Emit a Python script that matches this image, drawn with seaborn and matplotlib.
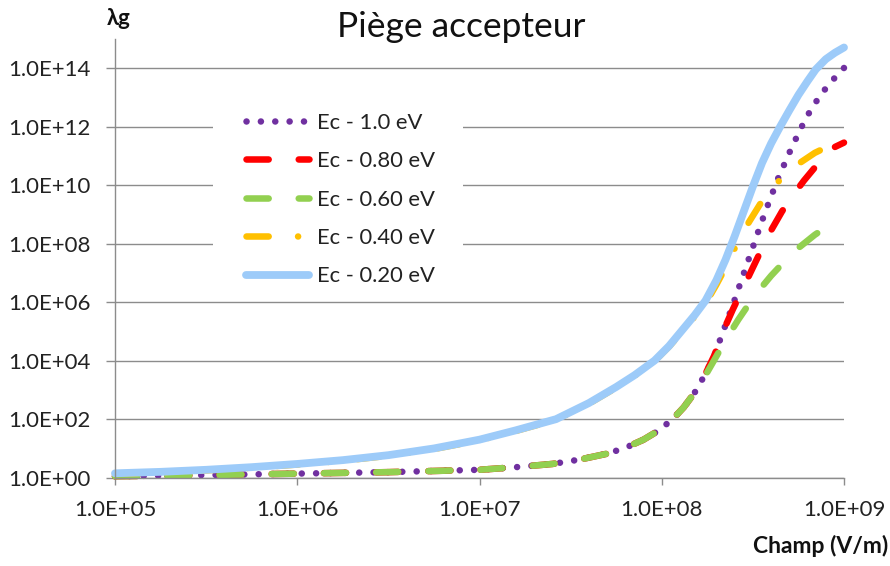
import numpy as np
import pandas as pd
import matplotlib
matplotlib.use("Agg")
import matplotlib.pyplot as plt
from matplotlib.patches import Rectangle
from matplotlib.ticker import FuncFormatter, FixedLocator, NullLocator
import seaborn as sns

# values, as log10(field) / log10(lambda_g)
series_names = ["Ec - 1.0 eV", "Ec - 0.80 eV", "Ec - 0.60 eV", "Ec - 0.40 eV", "Ec - 0.20 eV"]

logx_10 = [5.0, 5.5, 6.0, 6.5, 7.0, 7.2, 7.4, 7.55, 7.7, 7.8, 7.9, 7.98, 8.06, 8.12, 8.18,
           8.24, 8.29, 8.34, 8.39, 8.44, 8.49, 8.54, 8.59, 8.64, 8.70, 8.76, 8.82, 8.88,
           8.94, 9.0]
logy_10 = [0.05, 0.09, 0.14, 0.19, 0.27, 0.36, 0.47, 0.62, 0.82, 1.02, 1.3, 1.6, 2.0, 2.4, 2.9,
           3.55, 4.2, 5.05, 5.9, 6.8, 7.7, 8.6, 9.45, 10.25, 11.1, 11.9, 12.6, 13.15,
           13.6, 14.0]

logx_08 = [5.0, 5.5, 6.0, 6.5, 7.0, 7.2, 7.4, 7.55, 7.7, 7.8, 7.9, 7.98, 8.06, 8.12, 8.18,
           8.24, 8.29, 8.34, 8.39, 8.44, 8.49, 8.54, 8.60, 8.66, 8.72, 8.78, 8.84, 8.90,
           8.95, 9.0]
logy_08 = [0.05, 0.09, 0.14, 0.19, 0.27, 0.36, 0.47, 0.62, 0.82, 1.02, 1.3, 1.6, 2.0, 2.4, 2.9,
           3.55, 4.2, 5.05, 5.75, 6.4, 7.05, 7.7, 8.45, 9.1, 9.65, 10.15, 10.6, 11.0,
           11.3, 11.45]

logx_06 = [5.0, 5.5, 6.0, 6.5, 7.0, 7.2, 7.4, 7.55, 7.7, 7.8, 7.9, 7.98, 8.06, 8.12, 8.18,
           8.24, 8.30, 8.36, 8.42, 8.48, 8.54, 8.60, 8.66, 8.72, 8.78, 8.84, 8.90, 8.95, 9.0]
logy_06 = [0.05, 0.09, 0.14, 0.19, 0.27, 0.36, 0.47, 0.62, 0.82, 1.02, 1.3, 1.6, 2.0, 2.4, 2.9,
           3.5, 4.15, 4.8, 5.4, 5.95, 6.45, 6.9, 7.3, 7.7, 8.0, 8.3, 8.55, 8.7, 8.8]

logx_04 = [5.0, 5.25, 5.5, 5.75, 6.0, 6.25, 6.5, 6.75, 7.0, 7.2, 7.42, 7.6, 7.75, 7.85, 7.96,
           8.04, 8.12, 8.18, 8.24, 8.30, 8.36, 8.42, 8.48, 8.54, 8.60, 8.66, 8.72, 8.78,
           8.84, 8.90, 8.95, 9.0]
logy_04 = [0.13, 0.18, 0.25, 0.34, 0.45, 0.58, 0.75, 0.98, 1.28, 1.6, 1.98, 2.53, 3.08, 3.48,
           3.98, 4.48, 5.05, 5.5, 5.95, 6.6, 7.3, 8.1, 8.75, 9.35, 9.85, 10.25, 10.6, 10.85,
           11.1, 11.28, 11.4, 11.5]

logx_02 = [5.0, 5.25, 5.5, 5.75, 6.0, 6.25, 6.5, 6.75, 7.0, 7.2, 7.42, 7.6, 7.75, 7.85, 7.96,
           8.04, 8.12, 8.18, 8.24, 8.30, 8.35, 8.40, 8.45, 8.5, 8.55, 8.6, 8.65, 8.7, 8.75,
           8.8, 8.845, 8.9, 8.95, 9.0]
logy_02 = [0.15, 0.2, 0.27, 0.36, 0.47, 0.6, 0.77, 1.0, 1.3, 1.62, 2.0, 2.55, 3.1, 3.5, 4.0,
           4.5, 5.1, 5.55, 6.05, 6.75, 7.45, 8.25, 9.1, 9.95, 10.75, 11.42, 12.0, 12.55, 13.08,
           13.55, 13.95, 14.3, 14.52, 14.7]

xticks = [1e5, 1e6, 1e7, 1e8, 1e9]
yticks = [1e0, 1e2, 1e4, 1e6, 1e8, 1e10, 1e12, 1e14]

colors = ["#7030A0", "#FF0000", "#92D050", "#FFC000", "#9DCBF9"]

frames = []
for name, lx, ly in zip(series_names,
                        [logx_10, logx_08, logx_06, logx_04, logx_02],
                        [logy_10, logy_08, logy_06, logy_04, logy_02]):
    frames.append(pd.DataFrame({"champ": np.power(10.0, lx),
                                "lg": np.power(10.0, ly),
                                "serie": name}))
df = pd.concat(frames, ignore_index=True)

sns.set_theme(style="white")
plt.rcParams["font.family"] = ["Lato", "DejaVu Sans"]

fig = plt.figure(figsize=(8.9, 5.66), dpi=100)
ax = fig.add_axes([115 / 890, 1 - 477.7 / 566, 729 / 890, (477.7 - 38.7) / 566])

lw = 4.7
dash_map = {
    series_names[0]: (0.01, 14.3 / (lw / 0.72)),
    series_names[1]: (3.4, 4.6),
    series_names[2]: (3.4, 4.6),
    series_names[3]: (3.4, 4.5, 0.01, 4.5),
    series_names[4]: "",
}

sns.lineplot(data=df, x="champ", y="lg", hue="serie", style="serie",
             hue_order=series_names, style_order=series_names,
             palette=colors, dashes=dash_map, estimator=None, sort=False,
             linewidth=lw, dash_capstyle="round", solid_capstyle="round",
             solid_joinstyle="round", legend=False, ax=ax, clip_on=False)

lines = ax.get_lines()
lines[-1].set_linewidth(5.6)

ax.set_xscale("log")
ax.set_yscale("log")
ax.set_xlim(1e5, 1e9)
ax.set_ylim(1e0, 1e15)
ax.xaxis.set_major_locator(FixedLocator(xticks))
ax.yaxis.set_major_locator(FixedLocator(yticks))
ax.xaxis.set_minor_locator(NullLocator())
ax.yaxis.set_minor_locator(NullLocator())
fmt = FuncFormatter(lambda v, p: f"{v:.1E}")
ax.xaxis.set_major_formatter(fmt)
ax.yaxis.set_major_formatter(fmt)

grey = "#8C8C8C"
ax.grid(axis="y", color=grey, linewidth=1.0)
ax.grid(axis="x", visible=False)
ax.set_axisbelow(True)
for s in ["top", "right"]:
    ax.spines[s].set_visible(False)
for s in ["left", "bottom"]:
    ax.spines[s].set_color(grey)
    ax.spines[s].set_linewidth(1.0)
ax.tick_params(axis="x", which="major", length=5.3, width=1.0, color=grey,
               pad=11, labelsize=16, labelcolor="#222222", bottom=True)
ax.tick_params(axis="y", which="major", length=6.5, width=1.0, color=grey,
               pad=11, labelsize=16, labelcolor="#222222", left=True)
ax.set_xlabel("")
ax.set_ylabel("")

# white area behind the legend, hiding the gridlines like the original
ax.add_patch(Rectangle(((213 - 115) / 729, (477.7 - 297) / 439), 250 / 729, 200 / 439,
                       transform=ax.transAxes, facecolor="white", edgecolor="none",
                       zorder=1))

leg = ax.legend(lines, series_names, loc="upper left",
                bbox_to_anchor=((233 - 115) / 729, (477.7 - 99.5) / 439),
                fontsize=15.8, frameon=False, borderpad=0.6,
                handlelength=2.88, handletextpad=0.37, labelspacing=0.84,
                borderaxespad=0)
for t in leg.get_texts():
    t.set_color("#222222")

fig.text(461.5 / 890, 1 - 36.7 / 566, "Piège accepteur", ha="center", va="baseline",
         fontsize=25.5, color="#111111")
fig.text(107 / 890, 1 - 25 / 566, "λg", ha="left", va="baseline",
         fontsize=16, fontweight="bold", color="#111111")
fig.text(888 / 890, 1 - 553 / 566, "Champ (V/m)", ha="right", va="baseline",
         fontsize=16.5, fontweight="bold", color="#111111")

fig.savefig("out.png", dpi=100)
